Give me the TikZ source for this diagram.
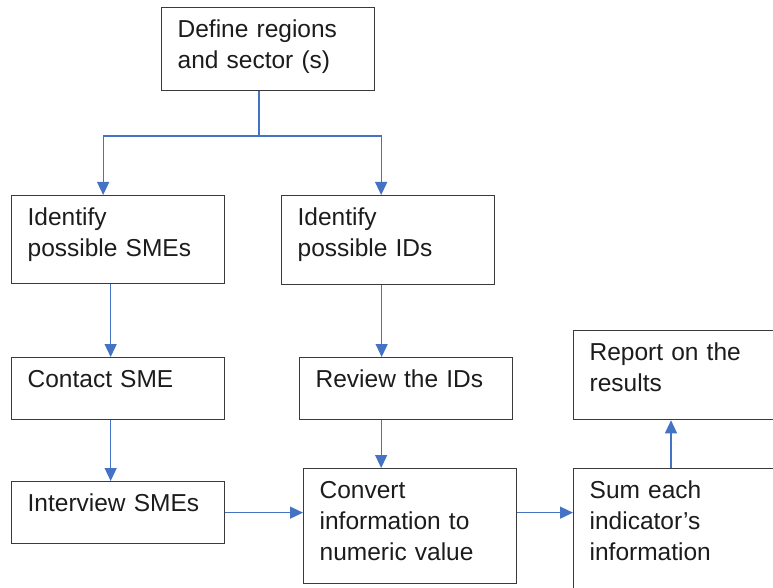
\documentclass[tikz,border=0pt]{standalone}
\usepackage{fontspec}
\setmainfont{Liberation Sans}
\usepackage{tikz}
\usetikzlibrary{arrows.meta, positioning, calc}
\usepackage{xcolor}
\definecolor{flowblue}{HTML}{4472C4}
\definecolor{boxgray}{HTML}{3A3A3A}
\definecolor{txtgray}{HTML}{1C1C1C}

\tikzset{
  proc/.style={draw=boxgray, line width=1.3pt, rectangle, anchor=north west,
    text width=181pt, align=left, inner xsep=16pt, inner ysep=8pt,
    text height=22pt, text depth=#1, text=txtgray,
    font=\fontsize{24.5}{31}\selectfont},
  flow/.style={draw=flowblue, line width=1.2pt, -{Triangle[length=13pt,width=12pt]}}
}

\begin{document}
\begin{tikzpicture}[x=1pt, y=-1pt]
  \useasboundingbox (0,0) rectangle (773,588);
  \clip (0,0) rectangle (773,588);
  % boxes
  \node[proc=45pt] (define) at (161,7) {Define regions\\and sector (s)};
  \node[proc=50pt] (sme) at (11,195) {Identify\\possible SMEs};
  \node[proc=51pt] (ids) at (281,195) {Identify\\possible IDs};
  \node[proc=24pt] (contact) at (11,357) {Contact SME};
  \node[proc=24pt] (review) at (299,357) {Review the IDs};
  \node[proc=51pt] (report) at (573,330) {Report on the\\results};
  \node[proc=24pt] (interview) at (11,481) {Interview SMEs};
  \node[proc=77pt] (convert) at (303,468) {Convert\\information to\\numeric value};
  \node[proc=87pt] (sum) at (573,468) {Sum each\\indicator's\\information};
  % connectors
  \coordinate (split) at (259,136);
  \draw[flow] (split |- define.south) -- (split) -| ([xshift=-15pt]sme.north);
  \draw[flow] (split) -| ([xshift=-7pt]ids.north);
  \draw[flow] ([xshift=-7.5pt]sme.south) -- ([xshift=-7.5pt]contact.north);
  \draw[flow] ([xshift=-6.5pt]ids.south) -- ([xshift=-6.5pt]ids.south |- review.north);
  \draw[flow] ([xshift=-7.5pt]contact.south) -- ([xshift=-7.5pt]interview.north);
  \draw[flow] ([xshift=-25pt]review.south) -- ([xshift=-25pt]review.south |- convert.north);
  \draw[flow] (interview.east) -- (interview.east -| convert.west);
  \draw[flow] (interview.east -| convert.east) -- (interview.east -| sum.west);
  \draw[flow] (sum.north -| 671,0) -- (report.south -| 671,0);
\end{tikzpicture}
\end{document}
